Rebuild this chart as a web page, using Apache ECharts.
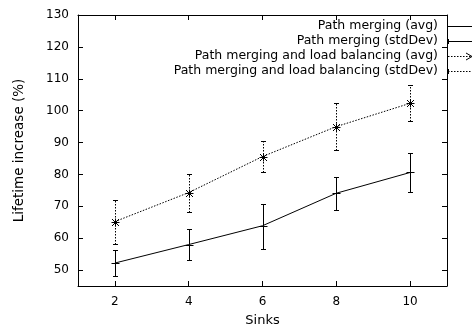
<!DOCTYPE html>
<html><head><meta charset="utf-8">
<script src="https://cdn.jsdelivr.net/npm/echarts@6/dist/echarts.min.js"></script>
<style>html,body{margin:0;padding:0;background:#fff}#c{width:472px;height:329px}</style>
</head><body><div id="c"></div>
<script>
const sinks = [2, 4, 6, 8, 10];
const pmAvg = [52.2, 58.0, 63.9, 74.1, 80.6];
const pmLow = [48.2, 53.0, 56.7, 68.9, 74.5];
const pmHigh = [56.3, 63.0, 70.8, 79.3, 86.6];
const lbAvg = [65.2, 74.3, 85.6, 95.0, 102.3];
const lbLow = [58.2, 68.2, 80.6, 87.7, 96.6];
const lbHigh = [72.0, 80.2, 90.6, 102.5, 108.0];
const xTicks = [2, 4, 6, 8, 10];
const yTicks = [50, 60, 70, 80, 90, 100, 110, 120, 130];
const names = ['Path merging (avg)', 'Path merging (stdDev)', 'Path merging and load balancing (avg)', 'Path merging and load balancing (stdDev)'];

const FONT = 'DejaVu Sans';
const DOT = [1.5, 1.5];
const chart = echarts.init(document.getElementById('c'), null, {renderer: 'canvas'});

function errItems(low, avg, high) {
  return sinks.map((s, i) => [s, low[i], high[i], avg[i]]);
}
function makeRender(dotted, marker) {
  return function (params, api) {
    const x = api.value(0);
    const pLo = api.coord([x, api.value(1)]);
    const pHi = api.coord([x, api.value(2)]);
    const pM = api.coord([x, api.value(3)]);
    const cx = Math.round(pLo[0]) + 0.5;
    const yl = Math.round(pLo[1]) + 0.5, yh = Math.round(pHi[1]) + 0.5, ym = Math.round(pM[1]) + 0.5;
    const w = 2.5, m = 4;
    const st = {stroke: '#000', lineWidth: 1, fill: null, lineDash: dotted ? DOT : null};
    const solid = {stroke: '#000', lineWidth: 1, fill: null};
    const ch = [
      {type: 'line', shape: {x1: cx, y1: yl, x2: cx, y2: yh}, style: st},
      {type: 'line', shape: {x1: cx - w, y1: yl, x2: cx + w, y2: yl}, style: solid},
      {type: 'line', shape: {x1: cx - w, y1: yh, x2: cx + w, y2: yh}, style: solid},
      {type: 'line', shape: {x1: cx - m, y1: ym, x2: cx + m, y2: ym}, style: solid},
      {type: 'line', shape: {x1: cx, y1: ym - m, x2: cx, y2: ym + m}, style: solid}
    ];
    if (marker === 'star') {
      ch.push({type: 'line', shape: {x1: cx - 3.5, y1: ym - 3.5, x2: cx + 3.5, y2: ym + 3.5}, style: solid});
      ch.push({type: 'line', shape: {x1: cx - 3.5, y1: ym + 3.5, x2: cx + 3.5, y2: ym - 3.5}, style: solid});
    }
    return {type: 'group', children: ch};
  };
}

const axisCommon = {
  type: 'value',
  axisLine: {show: true, lineStyle: {color: '#000', width: 1}},
  splitLine: {show: false},
  axisTick: {show: true, inside: true, length: 5, lineStyle: {color: '#000'}},
  axisLabel: {color: '#000', fontFamily: FONT, fontSize: 12}
};

const legendY = [26, 41, 56, 71];
const legendGraphics = [];
names.forEach((n, i) => {
  legendGraphics.push({type: 'text', x: 438, y: legendY[i], silent: true,
    style: {text: n, x: 0, y: 0, align: 'right', verticalAlign: 'middle', font: '12.5px "' + FONT + '"', fill: '#000'}});
  const dotted = i >= 2;
  legendGraphics.push({type: 'line', silent: true,
    shape: {x1: 448, y1: legendY[i] + 0.5, x2: 472, y2: legendY[i] + 0.5},
    style: {stroke: '#000', lineWidth: 1, lineDash: dotted ? DOT : null}});
  if (i === 1 || i === 3) {
    legendGraphics.push({type: 'line', silent: true,
      shape: {x1: 448.5, y1: legendY[i] - 2, x2: 448.5, y2: legendY[i] + 3},
      style: {stroke: '#000', lineWidth: 1}});
  }
});
legendGraphics.push({type: 'line', silent: true, shape: {x1: 466, y1: 56.5 - 3.5, x2: 472, y2: 56.5}, style: {stroke: '#000', lineWidth: 1}});
legendGraphics.push({type: 'line', silent: true, shape: {x1: 466, y1: 56.5 + 3.5, x2: 472, y2: 56.5}, style: {stroke: '#000', lineWidth: 1}});

chart.setOption({
  animation: false,
  backgroundColor: '#fff',
  grid: {left: 78, right: 25, top: 15, bottom: 43, containLabel: false, outerBoundsMode: 'none'},
  xAxis: [
    Object.assign({}, axisCommon, {
      min: 1, max: 11, position: 'bottom',
      name: 'Sinks', nameLocation: 'middle', nameGap: 28,
      nameTextStyle: {color: '#000', fontFamily: FONT, fontSize: 13},
      axisTick: Object.assign({}, axisCommon.axisTick, {customValues: xTicks}),
      axisLabel: Object.assign({}, axisCommon.axisLabel, {customValues: xTicks, margin: 10})
    }),
    Object.assign({}, axisCommon, {
      min: 1, max: 11, position: 'top',
      axisTick: Object.assign({}, axisCommon.axisTick, {customValues: xTicks}),
      axisLabel: {show: false}
    })
  ],
  yAxis: [
    Object.assign({}, axisCommon, {
      min: 45, max: 130, position: 'left',
      name: 'Lifetime increase (%)', nameLocation: 'middle', nameGap: 52, nameRotate: 90,
      nameTextStyle: {color: '#000', fontFamily: FONT, fontSize: 13.5},
      axisTick: Object.assign({}, axisCommon.axisTick, {customValues: yTicks}),
      axisLabel: Object.assign({}, axisCommon.axisLabel, {customValues: yTicks, margin: 9})
    }),
    Object.assign({}, axisCommon, {
      min: 45, max: 130, position: 'right',
      axisTick: Object.assign({}, axisCommon.axisTick, {customValues: yTicks}),
      axisLabel: {show: false}
    })
  ],
  graphic: legendGraphics,
  series: [
    {name: names[0], type: 'line', data: sinks.map((s, i) => [s, pmAvg[i]]), symbol: 'none',
      lineStyle: {color: '#000', width: 1}, z: 3},
    {name: names[1], type: 'custom', data: errItems(pmLow, pmAvg, pmHigh), renderItem: makeRender(false, 'plus'), z: 4},
    {name: names[2], type: 'line', data: sinks.map((s, i) => [s, lbAvg[i]]), symbol: 'none',
      lineStyle: {color: '#000', width: 1, type: DOT}, z: 3},
    {name: names[3], type: 'custom', data: errItems(lbLow, lbAvg, lbHigh), renderItem: makeRender(true, 'star'), z: 4}
  ]
});
</script></body></html>
